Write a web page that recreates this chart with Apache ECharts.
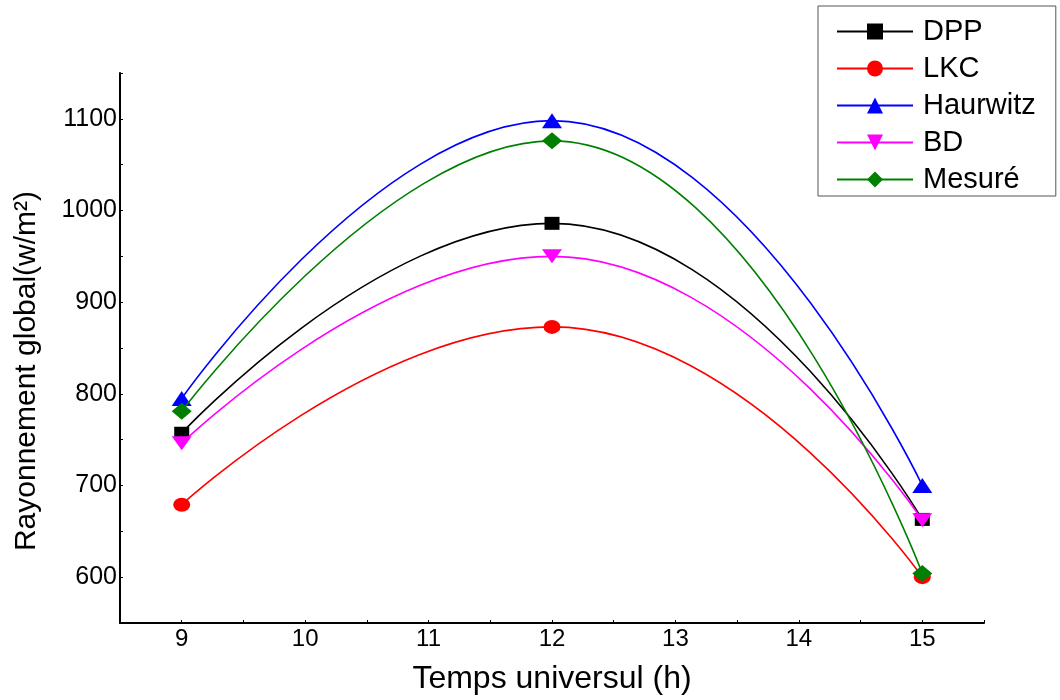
<!DOCTYPE html>
<html>
<head>
<meta charset="utf-8">
<script src="https://cdn.jsdelivr.net/npm/echarts@6/dist/echarts.min.js"></script>
<style>html,body{margin:0;padding:0;background:#fff}#c{width:1060px;height:700px}</style>
</head>
<body>
<div id="c"></div>
<script>
var hours = [9, 12, 15];
var seriesNames = ['DPP', 'LKC', 'Haurwitz', 'BD', 'Mesuré'];
var dpp = [757, 986, 663];
var lkc = [679, 873, 600];
var haurwitz = [795, 1098, 700];
var bd = [746, 950, 662];
var mesure = [781, 1076, 604];
var yTickLabels = [600, 700, 800, 900, 1000, 1100];
var xTickLabels = [9, 10, 11, 12, 13, 14, 15];
var xTitle = 'Temps universul (h)';
var yTitle = 'Rayonnement global(w/m²)';

var FONT = 'Liberation Sans, Arial, sans-serif';
function pairs(vals) { return hours.map(function (h, i) { return [h, vals[i]]; }); }

var styles = [
  { color: '#000000', symbol: 'rect', size: [15, 13], rotate: 0 },
  { color: '#ff0000', symbol: 'circle', size: [17, 14], rotate: 0 },
  { color: '#0000ff', symbol: 'triangle', size: [20, 15], rotate: 0 },
  { color: '#ff00ff', symbol: 'triangle', size: [20, 14], rotate: 180 },
  { color: '#008000', symbol: 'diamond', size: [20, 17], rotate: 0 }
];
var values = [dpp, lkc, haurwitz, bd, mesure];

var series = seriesNames.map(function (name, i) {
  var s = styles[i];
  return {
    name: name,
    type: 'line',
    data: pairs(values[i]),
    smooth: 0.5,
    symbol: s.symbol,
    symbolSize: s.size,
    symbolRotate: s.rotate,
    showAllSymbol: true,
    lineStyle: { color: s.color, width: 1.6 },
    itemStyle: { color: s.color, opacity: 1 },
    emphasis: { disabled: true },
    z: 2 + i
  };
});

var chart = echarts.init(document.getElementById('c'), null, { renderer: 'canvas' });
chart.setOption({
  animation: false,
  backgroundColor: '#ffffff',
  grid: { left: 120, right: 76, top: 73, bottom: 72, containLabel: false },
  xAxis: {
    type: 'value',
    min: 8.5, max: 15.5, interval: 0.5,
    name: xTitle,
    nameLocation: 'middle',
    nameGap: 40,
    nameTextStyle: { fontFamily: FONT, fontSize: 32, color: '#000' },
    axisLine: { show: true, onZero: false, lineStyle: { color: '#000', width: 2 } },
    axisTick: { show: true, inside: true, length: 3, lineStyle: { color: '#000', width: 1 } },
    axisLabel: {
      fontFamily: FONT, fontSize: 24, color: '#000', margin: 4,
      formatter: function (v) { return xTickLabels.indexOf(v) >= 0 ? String(v) : ''; }
    },
    splitLine: { show: false }
  },
  yAxis: {
    type: 'value',
    min: 550, max: 1150, interval: 50,
    name: yTitle,
    nameLocation: 'middle',
    nameGap: 78,
    nameTextStyle: { fontFamily: FONT, fontSize: 30, color: '#000', padding: [0, 46, 0, 0] },
    axisLine: { show: true, onZero: false, lineStyle: { color: '#000', width: 2 } },
    axisTick: { show: true, inside: true, length: 3, lineStyle: { color: '#000', width: 1 } },
    axisLabel: {
      fontFamily: FONT, fontSize: 25, color: '#000', margin: 3,
      formatter: function (v) { return yTickLabels.indexOf(v) >= 0 ? String(v) : ''; }
    },
    splitLine: { show: false }
  },
  legend: {
    orient: 'vertical',
    left: 818, top: 6,
    padding: [11, 20, 2, 18],
    itemWidth: 76, itemHeight: 20, itemGap: 8,
    borderColor: '#555', borderWidth: 1,
    backgroundColor: '#fff',
    textStyle: { fontFamily: FONT, fontSize: 29, color: '#000', lineHeight: 20, padding: [0, 0, 0, 5] },
    data: seriesNames
  },
  series: series
});
</script>
</body>
</html>
